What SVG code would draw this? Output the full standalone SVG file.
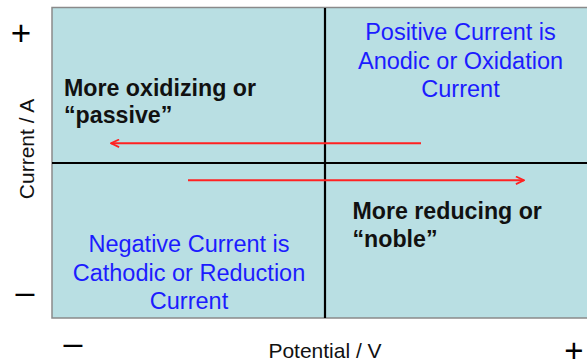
<svg xmlns="http://www.w3.org/2000/svg" width="587" height="364" viewBox="0 0 587 364">
  <style>
    .blue { font-family: "Liberation Sans", Arial, sans-serif; font-size: 23.5px; fill: #1c1cff; text-anchor: middle; }
    .bold { font-family: "Liberation Sans", Arial, sans-serif; font-size: 23.2px; font-weight: bold; fill: #111; }
    .axis { font-family: "Liberation Sans", Arial, sans-serif; font-size: 21px; fill: #111; text-anchor: middle; }
    .sign { font-family: "Liberation Sans", Arial, sans-serif; fill: #000; text-anchor: middle; }
    .arrow { stroke: #ff2222; stroke-width: 2; fill: none; }
  </style>
  <defs>
    <marker id="chev" viewBox="0 0 10 10" refX="9.5" refY="5" markerWidth="10" markerHeight="9" markerUnits="userSpaceOnUse" orient="auto">
      <path d="M0.5 0.8 L9.5 5 L0.5 9.2" fill="none" stroke="#ff2222" stroke-width="2"/>
    </marker>
  </defs>
  <rect width="587" height="364" fill="#ffffff"/>
  <g id="plot">
    <rect x="52" y="7.5" width="545" height="310.5" fill="#b9dfe3" stroke="#8a8a8a" stroke-width="1.5"/>
    <line x1="325" y1="8" x2="325" y2="318" stroke="#000" stroke-width="2.2"/>
    <line x1="52" y1="163" x2="587" y2="163" stroke="#000" stroke-width="2.2"/>
  </g>
  <g id="connectors">
    <line class="arrow" x1="421" y1="143.3" x2="111" y2="143.3" marker-end="url(#chev)"/>
    <line class="arrow" x1="188" y1="180.3" x2="524" y2="180.3" marker-end="url(#chev)"/>
  </g>
  <g id="q1">
    <text class="blue" x="460.5" y="39.5">Positive Current is</text>
    <text class="blue" x="460.5" y="68.5">Anodic or Oxidation</text>
    <text class="blue" x="460.5" y="97">Current</text>
  </g>
  <g id="q3">
    <text class="blue" x="189" y="251.7">Negative Current is</text>
    <text class="blue" x="189" y="280.5">Cathodic or Reduction</text>
    <text class="blue" x="189" y="308.5">Current</text>
  </g>
  <g id="oxidizing">
    <text class="bold" x="64" y="96">More oxidizing or</text>
    <text class="bold" x="64" y="123">“passive”</text>
  </g>
  <g id="reducing">
    <text class="bold" x="352.5" y="219.3">More reducing or</text>
    <text class="bold" x="352.5" y="246.7">“noble”</text>
  </g>
  <g id="axes-labels">
    <text class="axis" transform="translate(33.5,149) rotate(-90)">Current / A</text>
    <text class="axis" x="325" y="358.3">Potential / V</text>
    <text class="sign" x="21" y="45.4" font-size="35">+</text>
    <text class="sign" x="25" y="302.6" font-size="34">–</text>
    <text class="sign" x="73" y="354.3" font-size="34">–</text>
    <text class="sign" x="574" y="362" font-size="33">+</text>
  </g>
</svg>
